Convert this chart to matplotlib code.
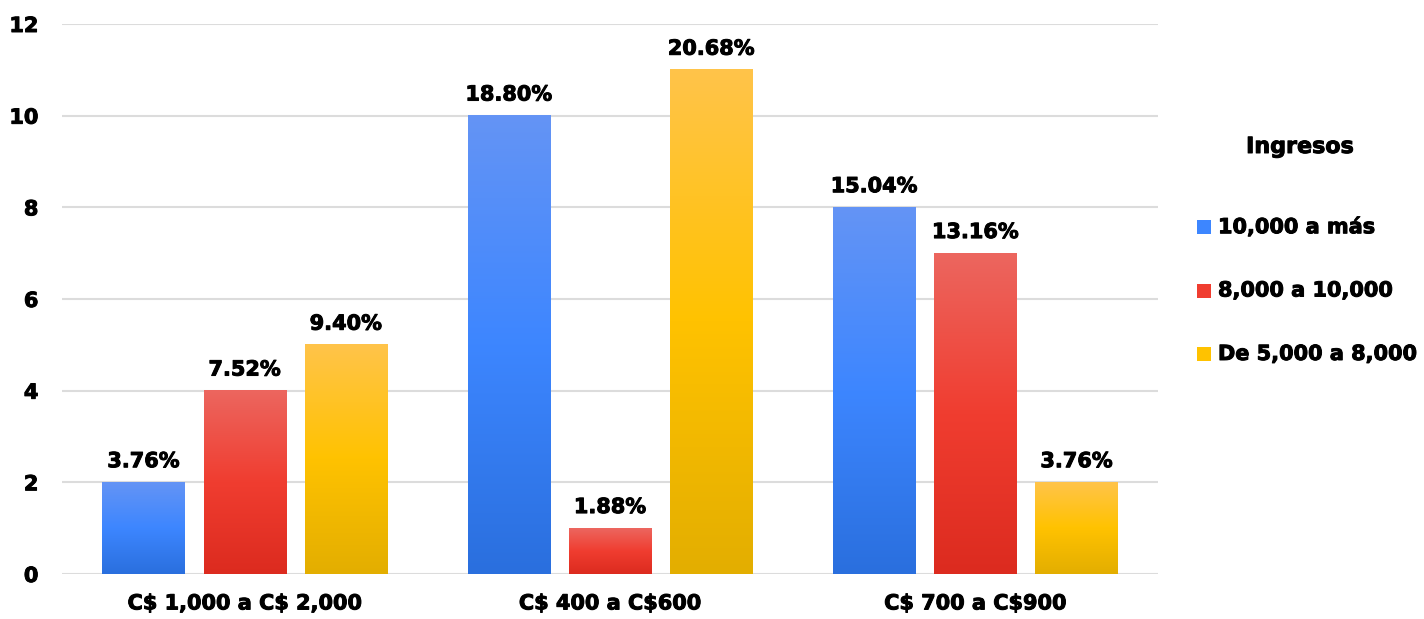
import numpy as np
import matplotlib
matplotlib.use("Agg")
import matplotlib.pyplot as plt
import matplotlib.patheffects as pe
from matplotlib.colors import LinearSegmentedColormap
from matplotlib.patches import Rectangle

plt.rcParams['font.family'] = ['DejaVu Sans']
plt.rcParams['font.weight'] = 'bold'
plt.rcParams['text.parse_math'] = False

categories = ["C$ 1,000 a C$ 2,000", "C$ 400 a C$600", "C$ 700 a C$900"]
series_names = ["10,000 a más", "8,000 a 10,000", "De 5,000 a 8,000"]
counts = [
    [2, 10, 8],   # 10,000 a más
    [4, 1, 7],    # 8,000 a 10,000
    [5, 11, 2],   # De 5,000 a 8,000
]
pct_labels = [
    ["3.76%", "18.80%", "15.04%"],
    ["7.52%", "1.88%", "13.16%"],
    ["9.40%", "20.68%", "3.76%"],
]
legend_title = "Ingresos"

# bottom, middle, top of each bar's gradient
grads = [
    ["#2a6fde", "#3d86ff", "#6494f5"],
    ["#dc2b1f", "#f03d30", "#ec665f"],
    ["#e3ae00", "#ffc200", "#ffc44a"],
]

FS = 15
heavy = [pe.withStroke(linewidth=0.7, foreground="black")]

fig = plt.figure(figsize=(14.24, 6.19), dpi=100)
ax = fig.add_axes([62 / 1424, 1 - 574 / 619, (1158 - 62) / 1424, (574 - 24) / 619])

x = np.arange(len(categories))
width = 0.225
step = 0.277

for i, vals in enumerate(counts):
    cmap = LinearSegmentedColormap.from_list(f"g{i}", grads[i])
    bars = ax.bar(x + (i - 1) * step, vals, width, color="none", zorder=3)
    for b, lab in zip(bars, pct_labels[i]):
        bx, bw, bh = b.get_x(), b.get_width(), b.get_height()
        g = np.linspace(0, 1, 256).reshape(-1, 1)
        ax.imshow(g, cmap=cmap, origin="lower", aspect="auto",
                  extent=(bx, bx + bw, 0, bh), zorder=3)
        ax.annotate(lab, (bx + bw / 2, bh), xytext=(0, 8), textcoords="offset points",
                    ha="center", va="bottom", fontsize=FS, fontweight="bold",
                    path_effects=heavy)

ax.set_xlim(-0.5, 2.5)
ax.set_ylim(0, 12)
ax.set_yticks(range(0, 13, 2))
ax.set_xticks(x)
ax.set_xticklabels(categories)
ax.tick_params(axis="both", length=0, labelsize=FS)
ax.tick_params(axis="y", pad=17)
ax.tick_params(axis="x", pad=14)
for lbl in ax.get_xticklabels() + ax.get_yticklabels():
    lbl.set_fontweight("bold")
    lbl.set_path_effects(heavy)
ax.grid(axis="y", color="#dcdcdc", linewidth=1.5, zorder=0)
ax.set_axisbelow(True)
for s in ax.spines.values():
    s.set_visible(False)

# legend on the right
fig.text(1300 / 1424, 1 - 147 / 619, legend_title, ha="center", va="center",
         fontsize=16, fontweight="bold", path_effects=heavy)
for i, name in enumerate(series_names):
    yc = 227 + i * 63.5
    fig.patches.append(Rectangle((1197 / 1424, 1 - (yc + 7) / 619), 14 / 1424, 14 / 619,
                                 transform=fig.transFigure, facecolor=grads[i][1],
                                 edgecolor="none"))
    fig.text(1218 / 1424, 1 - yc / 619, name, ha="left", va="center",
             fontsize=FS, fontweight="bold", path_effects=heavy)

fig.savefig("out.png", dpi=100)
